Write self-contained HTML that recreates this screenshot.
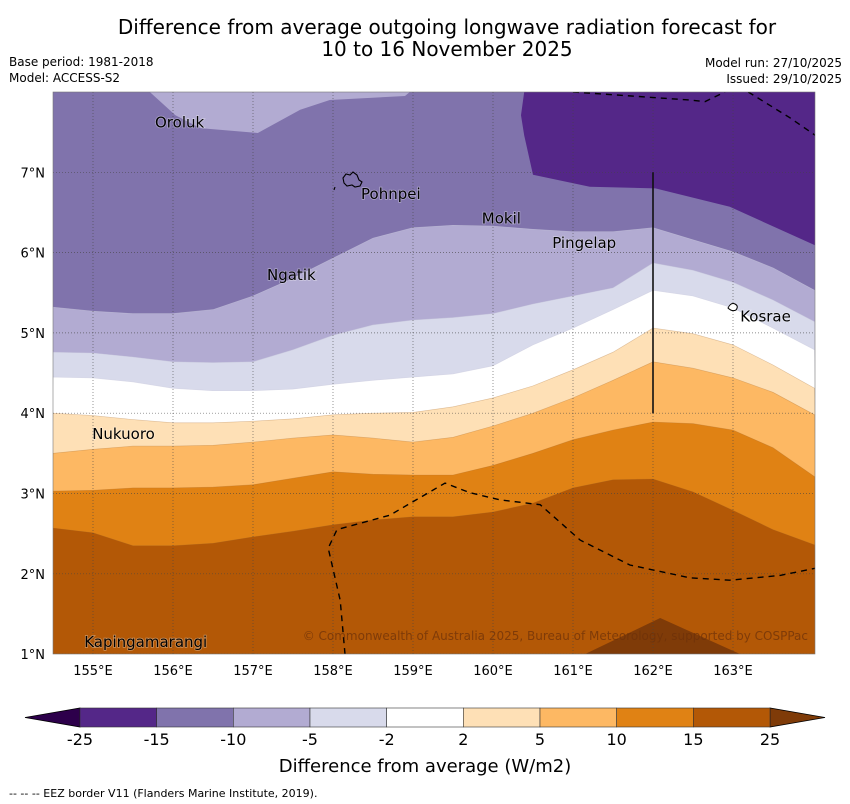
<!DOCTYPE html>
<html><head><meta charset="utf-8"><style>
body{margin:0;background:#fff;}
svg{display:block;font-family:"DejaVu Sans","Liberation Sans",sans-serif;}
</style></head><body>
<svg id="chart" width="850" height="804" viewBox="0 0 850 804">
<text x="447" y="34" font-size="20" text-anchor="middle">Difference from average outgoing longwave radiation forecast for</text>
<text x="447" y="56" font-size="20" text-anchor="middle">10 to 16 November 2025</text>
<text x="9" y="66" font-size="12">Base period: 1981-2018</text>
<text x="9" y="82" font-size="12">Model: ACCESS-S2</text>
<text x="842" y="67" font-size="12" text-anchor="end">Model run: 27/10/2025</text>
<text x="842" y="83" font-size="12" text-anchor="end">Issued: 29/10/2025</text>
<defs><clipPath id="mapclip"><rect x="53" y="92" width="762" height="562"/></clipPath></defs>
<g id="map" clip-path="url(#mapclip)"></g>
<g id="overlay"></g>
<g id="cbar"></g>
<text x="425" y="772" font-size="18" text-anchor="middle">Difference from average (W/m2)</text>
<text x="9" y="797" font-size="11">--  --  -- EEZ border V11 (Flanders Marine Institute, 2019).</text>
</svg>
<script>
const NS="http://www.w3.org/2000/svg";
const lons=[154.5,155.0,155.5,156.0,156.5,157.0,157.5,158.0,158.5,159.0,159.5,160.0,160.5,161.0,161.5,162.0,162.5,163.0,163.5,164.02];
const bandColors=["#b2abd2","#d8daeb","#ffffff","#fee0b6","#fdb863","#e08214","#b35806"];
const bandNames=["band-minus10-minus5","band-minus5-minus2","band-minus2-plus2","band-2-5","band-5-10","band-10-15","band-15-25"];
const edgeMinus10=[5.32,5.27,5.24,5.24,5.29,5.46,5.68,5.93,6.18,6.31,6.34,6.33,6.29,6.26,6.26,6.31,6.16,6.01,5.81,5.53];
const edgeMinus5=[4.76,4.75,4.70,4.64,4.63,4.64,4.79,4.97,5.10,5.16,5.19,5.24,5.36,5.46,5.56,5.87,5.78,5.63,5.41,5.14];
const edgeMinus2=[4.45,4.44,4.39,4.31,4.28,4.28,4.30,4.36,4.41,4.45,4.49,4.59,4.85,5.06,5.29,5.53,5.46,5.31,5.06,4.79];
const edgePlus2=[4.00,3.97,3.92,3.88,3.88,3.90,3.93,3.98,4.00,4.01,4.08,4.19,4.34,4.54,4.76,5.06,4.99,4.85,4.60,4.31];
const edgePlus5=[3.50,3.55,3.59,3.59,3.60,3.64,3.69,3.73,3.69,3.64,3.70,3.84,4.00,4.19,4.41,4.64,4.56,4.44,4.26,3.98];
const edgePlus10=[3.03,3.04,3.07,3.07,3.08,3.11,3.19,3.27,3.24,3.23,3.23,3.35,3.50,3.67,3.79,3.89,3.87,3.79,3.57,3.21];
const edgePlus15=[2.57,2.51,2.35,2.35,2.38,2.46,2.53,2.61,2.67,2.71,2.71,2.77,2.88,3.07,3.17,3.18,3.02,2.79,2.55,2.36];
const darkLon=[160.39,160.35,160.39,160.5,161.21,162.03,162.96,164.03,164.03];
const darkLat=[8.0,7.71,7.46,6.97,6.82,6.80,6.57,6.09,8.0];
const lightLon=[155.71,156.03,156.34,157.06,157.59,157.96,158.9,158.96];
const lightLat=[8.0,7.71,7.55,7.49,7.78,7.90,7.95,8.0];
const hotLon=[161.15,162.09,163.09];
const hotLat=[1.0,1.45,1.0];
const eezLowLon=[158.15,158.09,157.94,158.05,158.71,159.4,159.71,160.09,160.59,161.09,161.71,162.46,162.96,163.59,164.03];
const eezLowLat=[1.0,1.67,2.32,2.55,2.73,3.13,3.01,2.92,2.86,2.42,2.11,1.95,1.92,1.98,2.07];
const eezTopLon=[161.0,162.46,162.65,162.9];
const eezTopLat=[8.0,7.90,7.88,8.0];
const eezTop2Lon=[163.19,163.71,164.03];
const eezTop2Lat=[8.0,7.68,7.46];
const lonTicks=[155,156,157,158,159,160,161,162,163];
const latTicks=[1,2,3,4,5,6,7];
const places=["Oroluk","Pohnpei","Mokil","Pingelap","Ngatik","Kosrae","Nukuoro","Kapingamarangi"];
const placeLon=[155.775,158.35,159.86,160.74,157.175,163.09,154.99,154.89];
const placeLat=[7.56,6.67,6.36,6.06,5.66,5.14,3.68,1.09];
const cbLevels=["-25","-15","-10","-5","-2","2","5","10","15","25"];
const cbColors=["#542788","#8073ac","#b2abd2","#d8daeb","#ffffff","#fee0b6","#fdb863","#e08214","#b35806"];

const X=lon=>53+(lon-154.5)*80;
const Y=lat=>92+(8-lat)*80.3;
function mk(tag,attrs,parent){const e=document.createElementNS(NS,tag);for(const k in attrs)e.setAttribute(k,attrs[k]);parent.appendChild(e);return e;}
const map=document.getElementById('map'),ov=document.getElementById('overlay'),cb=document.getElementById('cbar');

let bg=mk('rect',{x:53,y:92,width:762,height:562,fill:'#8073ac'},map);


function ptsPoly(lo,la){return lo.map((v,i)=>X(v).toFixed(1)+','+Y(la[i]).toFixed(1)).join(' ');}
let lp=mk('polygon',{points:ptsPoly(lightLon,lightLat),fill:'#b2abd2'},map);


let dp=mk('polygon',{points:ptsPoly(darkLon,darkLat),fill:'#542788'},map);


const edges=[edgeMinus10,edgeMinus5,edgeMinus2,edgePlus2,edgePlus5,edgePlus10,edgePlus15];
edges.forEach((ed,k)=>{
  const pts=lons.map((lo,i)=>X(lo).toFixed(1)+','+Y(ed[i]).toFixed(1));
  pts.push(X(164.1)+','+Y(0.9));pts.push(X(154.4)+','+Y(0.9));
  const p=mk('polygon',{points:pts.join(' '),fill:bandColors[k],stroke:k>=3?'rgba(160,100,40,0.35)':'rgba(200,200,220,0.6)','stroke-width':0.6},map);
  
  
});
let hp=mk('polygon',{points:ptsPoly(hotLon,hotLat),fill:'#7f3b08'},map);



lonTicks.forEach(l=>{
  const g=mk('line',{x1:X(l),x2:X(l),y1:92,y2:654,stroke:'#444','stroke-width':0.7,'stroke-dasharray':'1,2',opacity:0.8},map);
  
  
  const t=mk('text',{x:X(l),y:675,'font-size':13,'text-anchor':'middle'},ov);t.textContent=l+'°E';
  
  
});
latTicks.forEach(l=>{
  const g=mk('line',{x1:53,x2:815,y1:Y(l),y2:Y(l),stroke:'#444','stroke-width':0.7,'stroke-dasharray':'1,2',opacity:0.8},map);
  
  
  const t=mk('text',{x:45,y:Y(l)+5,'font-size':13,'text-anchor':'end'},ov);t.textContent=l+'°N';
  
  
});
function dashed(lo,la,name){const p=mk('polyline',{points:ptsPoly(lo,la),fill:'none',stroke:'#000','stroke-width':1.4,'stroke-dasharray':'6,5'},map);
  
  }
dashed(eezLowLon,eezLowLat,'eez-border-south');
dashed(eezTopLon,eezTopLat,'eez-border-north');
dashed(eezTop2Lon,eezTop2Lat,'eez-border-northeast');
let vl=mk('line',{x1:X(162),x2:X(162),y1:Y(7),y2:Y(4),stroke:'#111','stroke-width':1.6},map);


let isl1=mk('path',{d:'M343,178 l3,-4 l4,1 l3,-3 l4,3 l2,5 l3,2 l-2,4 l-5,1 l-3,-2 l-5,1 l-3,-3 z M334,190 l1,-3',fill:'none',stroke:'#000','stroke-width':1.1},map);


let isl2=mk('path',{d:'M728,308 q3,-6 7,-4 q4,2 1,6 q-4,2 -8,-2z',fill:'#fff',stroke:'#000','stroke-width':1},map);


places.forEach((n,i)=>{
  const t=mk('text',{x:X(placeLon[i]),y:Y(placeLat[i]),'font-size':15,fill:'#000',style:'paint-order:stroke;stroke:rgba(255,255,255,0.35);stroke-width:1.5px'},ov);t.textContent=n;
  
  
});
let cr=mk('text',{x:808,y:640,'font-size':12,'text-anchor':'end',fill:'rgba(110,50,10,0.75)'},ov);
cr.textContent='© Commonwealth of Australia 2025, Bureau of Meteorology, supported by COSPPac';


let fr=mk('rect',{x:53,y:92,width:762,height:562,fill:'none',stroke:'#777','stroke-width':0.6},ov);



const cx0=80,cx1=770,cy0=708,cy1=727,bw=(cx1-cx0)/cbColors.length;
let tl=mk('polygon',{points:`25,717.5 ${cx0},${cy0} ${cx0},${cy1}`,fill:'#2d004b',stroke:'#000','stroke-width':0.8},cb);


let tr=mk('polygon',{points:`825,717.5 ${cx1},${cy0} ${cx1},${cy1}`,fill:'#7f3b08',stroke:'#000','stroke-width':0.8},cb);


cbColors.forEach((c,i)=>{
  const r=mk('rect',{x:cx0+i*bw,y:cy0,width:bw,height:cy1-cy0,fill:c,stroke:'#333','stroke-width':0.6},cb);
  
  
});
cbLevels.forEach((l,i)=>{
  const t=mk('text',{x:cx0+i*bw,y:745,'font-size':16,'text-anchor':'middle'},cb);t.textContent=l;
  
  
});
</script>
</body></html>
